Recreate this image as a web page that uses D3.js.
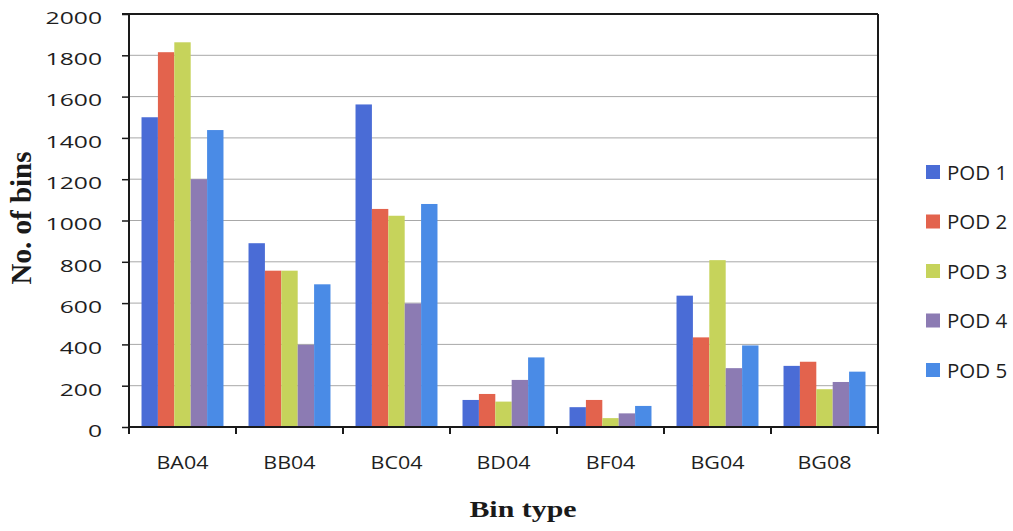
<!DOCTYPE html>
<html lang="en">
    <head>
        <meta charset="utf-8">
        <title> Bins per pod </title>
        <script src="https://d3js.org/d3.v7.min.js"></script>
        <style type="text/css">
            body { margin: 0; background: #fff; }
            .grid line { stroke: #a8a8a8; stroke-width: 1; }
        </style>
    </head>
    <body>
        <script type="text/javascript">

// set width and height
var w = 1013;
var h = 531;

var margin = {top: 14, right: 135, bottom: 104, left: 129};
var innerWidth = w - margin.left - margin.right;
var innerHeight = h - margin.top - margin.bottom;

// data
var binTypes = ["BA04", "BB04", "BC04", "BD04", "BF04", "BG04", "BG08"];
var pods = ["POD 1", "POD 2", "POD 3", "POD 4", "POD 5"];
var pod1 = [1500, 890, 1562, 131, 96, 636, 296];
var pod2 = [1815, 757, 1056, 160, 131, 434, 316];
var pod3 = [1863, 757, 1023, 123, 43, 808, 183];
var pod4 = [1200, 398, 598, 228, 66, 285, 218];
var pod5 = [1438, 691, 1080, 337, 102, 395, 268];
var yTicks = [0, 200, 400, 600, 800, 1000, 1200, 1400, 1600, 1800, 2000];
var colors = ["#4a6cd6", "#e3634d", "#c6d35b", "#8c7bb3", "#4a8be6"];

var series = [pod1, pod2, pod3, pod4, pod5];

// widen a text the way the picture is stretched
function stretch(sel, k) {
    sel.each(function(){
        var len = this.getComputedTextLength();
        d3.select(this)
          .attr("textLength", len * k)
          .attr("lengthAdjust", "spacingAndGlyphs");
    });
}

// scales
var x0 = d3.scaleBand()
    .domain(binTypes)
    .range([0, innerWidth])
    .paddingInner(0.234)
    .paddingOuter(0.117);

var x1 = d3.scaleBand()
    .domain(d3.range(pods.length))
    .range([0, x0.bandwidth()]);

var yScale = d3.scaleLinear()
    .domain([0, 2000])
    .range([innerHeight, 0]);

var svg = d3.select("body")
    .append("svg")
    .attr("width", w)
    .attr("height", h);

var g = svg.append("g")
    .attr("transform", `translate(${margin.left},${margin.top})`);

// grid lines
g.append("g")
    .attr("class", "grid")
    .selectAll("line")
    .data(yTicks.slice(1, -1))
    .enter()
    .append("line")
    .attr("x1", 0)
    .attr("x2", innerWidth)
    .attr("y1", function(d){ return yScale(d); })
    .attr("y2", function(d){ return yScale(d); });

// bars
var groups = g.selectAll(".group")
    .data(binTypes)
    .enter()
    .append("g")
    .attr("class", "group")
    .attr("transform", function(d){ return `translate(${x0(d)},0)`; });

groups.selectAll("rect")
    .data(function(d, i){
        return series.map(function(s, k){ return {k: k, v: s[i]}; });
    })
    .enter()
    .append("rect")
    .attr("x", function(d){ return x1(d.k); })
    .attr("y", function(d){ return yScale(d.v); })
    .attr("width", x1.bandwidth())
    .attr("height", function(d){ return innerHeight - yScale(d.v); })
    .attr("fill", function(d){ return colors[d.k]; });

// frame on top and right
g.append("line")
    .attr("x1", -7).attr("x2", innerWidth)
    .attr("y1", 0).attr("y2", 0)
    .attr("stroke", "#1a1a1a").attr("stroke-width", 2);
g.append("line")
    .attr("x1", innerWidth).attr("x2", innerWidth)
    .attr("y1", 0).attr("y2", innerHeight + 7)
    .attr("stroke", "#1a1a1a").attr("stroke-width", 2);

// y axis
var yAxis = d3.axisLeft(yScale)
    .tickValues(yTicks)
    .tickSize(7)
    .tickFormat(d3.format("d"));

var yg = g.append("g").call(yAxis);
yg.select(".domain").remove();
yg.append("line")
    .attr("x1", 0).attr("x2", 0)
    .attr("y1", 0).attr("y2", innerHeight + 7)
    .attr("stroke", "#1a1a1a").attr("stroke-width", 2);
yg.selectAll(".tick line").attr("stroke", "#1a1a1a").attr("stroke-width", 1.5);
yg.selectAll(".tick text")
    .attr("font-family", "'Open Sans', sans-serif")
    .attr("font-size", 17)
    .attr("fill", "#1e1e1e")
    .attr("x", -27)
    .attr("dy", "0.55em")
    .call(stretch, 1.45);

// x axis line and ticks between groups
g.append("line")
    .attr("x1", 0).attr("x2", innerWidth)
    .attr("y1", innerHeight).attr("y2", innerHeight)
    .attr("stroke", "#1a1a1a").attr("stroke-width", 2);

g.selectAll(".xtick")
    .data(d3.range(binTypes.length + 1))
    .enter()
    .append("line")
    .attr("class", "xtick")
    .attr("x1", function(i){ return i * x0.step(); })
    .attr("x2", function(i){ return i * x0.step(); })
    .attr("y1", innerHeight)
    .attr("y2", innerHeight + 7)
    .attr("stroke", "#1a1a1a").attr("stroke-width", 2);

g.selectAll(".xlabel")
    .data(binTypes)
    .enter()
    .append("text")
    .attr("class", "xlabel")
    .attr("x", function(d){ return x0(d) + x0.bandwidth() / 2; })
    .attr("y", innerHeight + 42)
    .attr("text-anchor", "middle")
    .attr("font-family", "'Open Sans', sans-serif")
    .attr("font-size", 19)
    .attr("fill", "#1e1e1e")
    .text(function(d){ return d; })
    .call(stretch, 1.13);

// axis titles
svg.append("text")
    .attr("x", 523)
    .attr("y", 517)
    .attr("text-anchor", "middle")
    .attr("font-family", "'Liberation Serif', 'Times New Roman', serif")
    .attr("font-weight", "bold")
    .attr("font-size", 23)
    .attr("fill", "#1a1a1a")
    .text("Bin type")
    .call(stretch, 1.3);

svg.append("text")
    .attr("transform", "translate(31,218) rotate(-90)")
    .attr("text-anchor", "middle")
    .attr("font-family", "'Liberation Serif', 'Times New Roman', serif")
    .attr("font-weight", "bold")
    .attr("font-size", 29)
    .attr("fill", "#1a1a1a")
    .text("No. of bins");

// legend
var legend = svg.selectAll(".legend")
    .data(pods)
    .enter()
    .append("g")
    .attr("class", "legend")
    .attr("transform", function(d, i){ return `translate(926,${172 + i * 49.5})`; });

legend.append("rect")
    .attr("x", 0)
    .attr("y", -7)
    .attr("width", 14)
    .attr("height", 14)
    .attr("fill", function(d, i){ return colors[i]; });

legend.append("text")
    .attr("x", 21)
    .attr("y", 7.5)
    .attr("font-family", "'Open Sans', sans-serif")
    .attr("font-size", 20.5)
    .attr("fill", "#1e1e1e")
    .text(function(d){ return d; });

        </script>
    </body>
</html>
